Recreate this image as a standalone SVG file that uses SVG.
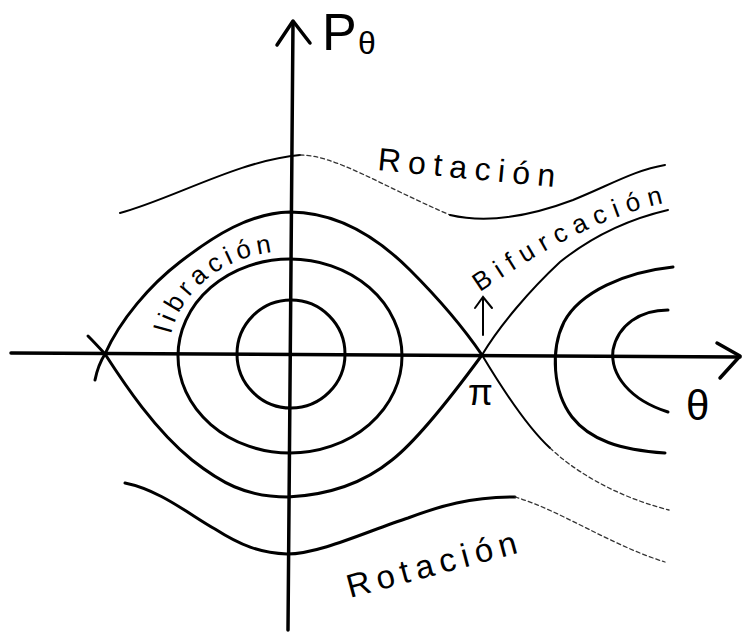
<svg xmlns="http://www.w3.org/2000/svg" width="743" height="632" viewBox="0 0 743 632">
<style>
.ax{fill:none;stroke:#000;stroke-width:3.5;stroke-linecap:round;stroke-linejoin:round}
.c{fill:none;stroke:#000;stroke-width:3;stroke-linecap:round;stroke-linejoin:round}
.t{fill:none;stroke:#000;stroke-width:2;stroke-linecap:round}
.f{fill:none;stroke:#333;stroke-width:1.3;stroke-dasharray:4 3;stroke-linecap:round}
.lb{font-family:"Liberation Sans","DejaVu Sans",sans-serif;fill:#000}
</style>
<defs>
<path id="pLib" d="M171,334 A121,105 0 0 1 286,251"/>
<path id="pBif" d="M480,292 C525,262 600,213 680,200"/>
</defs>
<rect width="743" height="632" fill="#fff"/>
<g id="axes">
<path class="ax" d="M293,22 L288,630"/>
<path class="ax" d="M277,45 L293,21 L310,43"/>
<path class="ax" d="M11,353 L740,357"/>
<path class="ax" d="M717,343 L740,356 L720,378"/>
</g>
<g id="curves">
<path id="sepUpper" class="c" d="M105,354 C120,320 150,285 180,262 C215,235 250,213 290,212 C340,212 380,240 410,270 C440,300 465,330 482,355"/>
<path id="sepLower" class="c" d="M105,354 C125,385 155,430 192,460 C220,482 245,497 288,497 C330,495 365,482 392,460 C420,438 460,385 482,355"/>
<path class="c" d="M105,354 Q95,343 88,336"/>
<path class="c" d="M105,354 Q98,365 95,380"/>
<path id="bifUp" class="t" d="M482,355 C500,325 530,290 560,262 C590,238 625,220 668,210"/>
<path id="bifDown" class="t" d="M482,355 C500,385 525,425 550,448"/>
<path class="f" d="M550,448 C570,467 610,495 669,510"/>
<ellipse id="middle" class="c" cx="290" cy="356" rx="112" ry="97"/>
<ellipse id="inner" class="c" cx="291" cy="354" rx="54" ry="54"/>
<path id="rightOuter" class="c" d="M673,267 C625,272 580,292 564,322 C550,350 553,392 572,417 C590,440 620,450 665,453"/>
<path id="rightInner" class="c" d="M668,310 C640,310 618,325 613,350 C610,375 630,400 668,412"/>
<path id="rotTop" class="t" d="M120,213 C170,200 240,160 300,155"/>
<path class="f" d="M300,155 C335,155 380,185 450,215"/>
<path class="t" d="M450,215 C480,222 520,220 573,200 C610,185 635,170 665,165"/>
<path id="rotBottom" class="c" d="M125,483 C160,490 190,515 215,529 C240,545 260,553 287,554 C320,554 370,530 408,518 C440,506 470,497 515,497"/>
<path class="f" d="M515,497 C560,510 610,545 665,562"/>
<path id="smallArrow" class="t" d="M483,335 L483,298 M475,308 L483,297 L492,308"/>
</g>
<g id="labels">
<text class="lb" x="322" y="50" font-size="52">P</text>
<text class="lb" x="358" y="54" font-size="32">θ</text>
<text class="lb" x="686" y="420" font-size="42">θ</text>
<text class="lb" x="468" y="405" font-size="36">π</text>
<text class="lb" x="377" y="170" font-size="32" textLength="178" lengthAdjust="spacing" transform="rotate(5.5 377 170)">Rotación</text>
<text class="lb" x="350" y="598" font-size="33" textLength="175" lengthAdjust="spacing" transform="rotate(-15 350 598)">Rotación</text>
<text class="lb" font-size="26"><textPath href="#pLib" textLength="138" lengthAdjust="spacing">libración</textPath></text>
<text class="lb" font-size="26"><textPath href="#pBif" textLength="205" lengthAdjust="spacing">Bifurcación</textPath></text>
</g>
</svg>
